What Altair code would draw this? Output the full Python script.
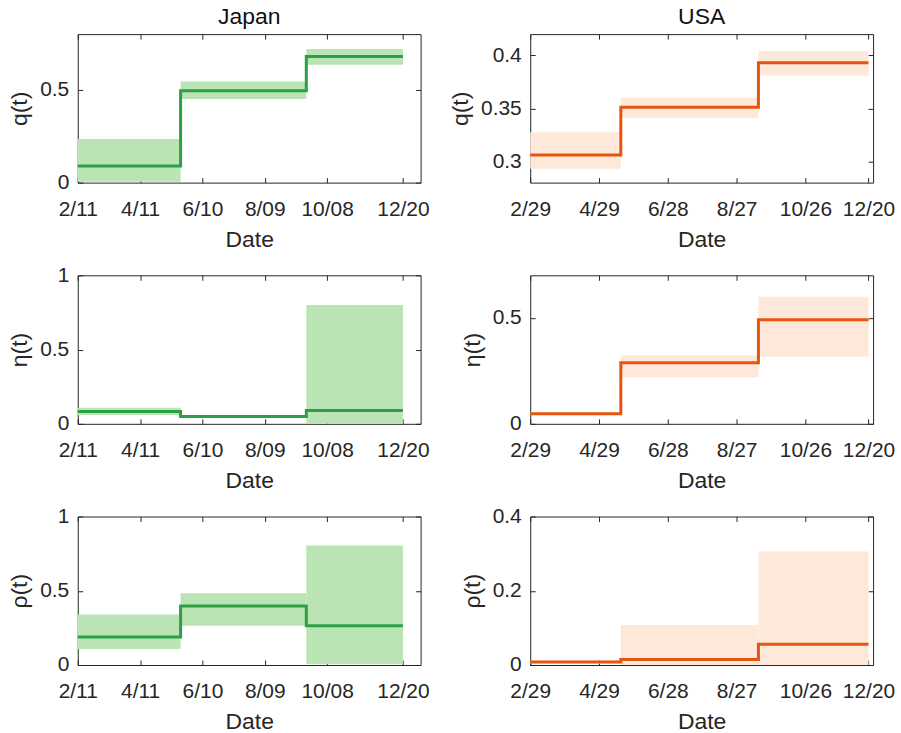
import altair as alt
import pandas as pd

# ---------------- data ----------------
# Japan
jp_dates = ["2020-02-11", "2020-05-20", "2020-09-18", "2020-12-20"]
jp_domain = ["2020-02-11", "2021-01-06"]
jp_ticks = ["2020-02-11", "2020-04-11", "2020-06-10", "2020-08-09", "2020-10-08", "2020-12-20"]

jp_q = [0.09, 0.495, 0.68]
jp_q_lo = [0.005, 0.45, 0.635]
jp_q_hi = [0.235, 0.545, 0.72]

jp_eta = [0.083, 0.05, 0.09]
jp_eta_lo = [0.06, 0.042, 0.0]
jp_eta_hi = [0.108, 0.058, 0.8]

jp_rho = [0.188, 0.398, 0.264]
jp_rho_lo = [0.107, 0.264, 0.005]
jp_rho_hi = [0.34, 0.483, 0.805]

# USA
us_dates = ["2020-02-29", "2020-05-18", "2020-09-15", "2020-12-20"]
us_domain = ["2020-02-29", "2020-12-24"]
us_ticks = ["2020-02-29", "2020-04-29", "2020-06-28", "2020-08-27", "2020-10-26", "2020-12-20"]

us_q = [0.306, 0.351, 0.393]
us_q_lo = [0.293, 0.341, 0.381]
us_q_hi = [0.3275, 0.36, 0.404]

us_eta = [0.047, 0.288, 0.491]
us_eta_lo = [0.042, 0.219, 0.317]
us_eta_hi = [0.052, 0.322, 0.599]

us_rho = [0.008, 0.015, 0.056]
us_rho_lo = [0.004, 0.0, 0.0]
us_rho_hi = [0.012, 0.108, 0.306]

GREEN, GREEN_FILL = "#2ca048", "#bae4b3"
ORANGE, ORANGE_FILL = "#e6550d", "#fde8da"
FONT = "Liberation Sans"
INK = "#262626"
TICK_IN = alt.ExprRef(expr="-5")


def dt(s):
    y, m, d = (int(p) for p in s.split("-"))
    return alt.DateTime(year=y, month=m, date=d, utc=True)


def panel(dates, dom, ticks, vals, lo, hi, ydom, yticks, ytitle, color, fill, title=None):
    seg = pd.DataFrame({"start": dates[:-1], "end": dates[1:], "lo": lo, "hi": hi})
    ln = pd.DataFrame({"date": dates, "v": vals + [vals[-1]]})
    xs = alt.Scale(type="utc", domain=[dt(d) for d in dom], nice=False)
    ys = alt.Scale(domain=ydom, nice=False, zero=False)
    tvals = [dt(d) for d in ticks]

    band = alt.Chart(seg).mark_rect(color=fill, opacity=1).encode(
        x=alt.X("start:T", scale=xs,
                axis=alt.Axis(values=tvals, format="%-m/%d", title="Date",
                              tickSize=TICK_IN, labelPadding=21, titlePadding=9,
                              labelFlush=False)),
        x2="end:T",
        y=alt.Y("lo:Q", scale=ys,
                axis=alt.Axis(values=yticks, format="~g", title=ytitle,
                              tickSize=TICK_IN, labelPadding=14, titlePadding=8)),
        y2="hi:Q",
    )
    line = alt.Chart(ln).mark_line(interpolate="step-after", color=color, strokeWidth=3).encode(
        x=alt.X("date:T", scale=xs, axis=None),
        y=alt.Y("v:Q", scale=ys, axis=None),
    )
    frame = alt.Chart(ln).mark_line(opacity=0).encode(
        x=alt.X("date:T", scale=xs,
                axis=alt.Axis(orient="top", values=tvals, labels=False, title=None,
                              tickSize=TICK_IN)),
        y=alt.Y("v:Q", scale=ys,
                axis=alt.Axis(orient="right", values=yticks, labels=False, title=None,
                              tickSize=TICK_IN)),
    )
    ch = alt.layer(band, line, frame).resolve_axis(x="independent", y="independent")
    props = dict(width=344, height=149)
    if title:
        props["title"] = alt.TitleParams(title, fontSize=23, fontWeight="normal",
                                         font=FONT, color="#111111", offset=5)
    return ch.properties(**props)


charts = [
    panel(jp_dates, jp_domain, jp_ticks, jp_q, jp_q_lo, jp_q_hi, [0, 0.8], [0, 0.5],
          "q(t)", GREEN, GREEN_FILL, "Japan"),
    panel(us_dates, us_domain, us_ticks, us_q, us_q_lo, us_q_hi, [0.28, 0.42], [0.3, 0.35, 0.4],
          "q(t)", ORANGE, ORANGE_FILL, "USA"),
    panel(jp_dates, jp_domain, jp_ticks, jp_eta, jp_eta_lo, jp_eta_hi, [0, 1], [0, 0.5, 1],
          "η(t)", GREEN, GREEN_FILL),
    panel(us_dates, us_domain, us_ticks, us_eta, us_eta_lo, us_eta_hi, [0, 0.7], [0, 0.5],
          "η(t)", ORANGE, ORANGE_FILL),
    panel(jp_dates, jp_domain, jp_ticks, jp_rho, jp_rho_lo, jp_rho_hi, [0, 1], [0, 0.5, 1],
          "ρ(t)", GREEN, GREEN_FILL),
    panel(us_dates, us_domain, us_ticks, us_rho, us_rho_lo, us_rho_hi, [0, 0.4], [0, 0.2, 0.4],
          "ρ(t)", ORANGE, ORANGE_FILL),
]

chart = alt.concat(*charts, columns=2, spacing=alt.RowColnumber(row=11, column=18)).properties(
    padding={"left": 8, "top": 4, "right": 5, "bottom": 0},
    background="white",
).configure_view(
    stroke=INK, strokeWidth=1,
).configure_axis(
    grid=False, domain=False,
    labelFont=FONT, labelFontSize=21, labelColor=INK,
    titleFont=FONT, titleFontSize=23, titleFontWeight="normal", titleColor=INK,
    tickColor=INK, tickWidth=1,
)

chart.save("out.html", embed_options={"renderer": "svg", "actions": False})
